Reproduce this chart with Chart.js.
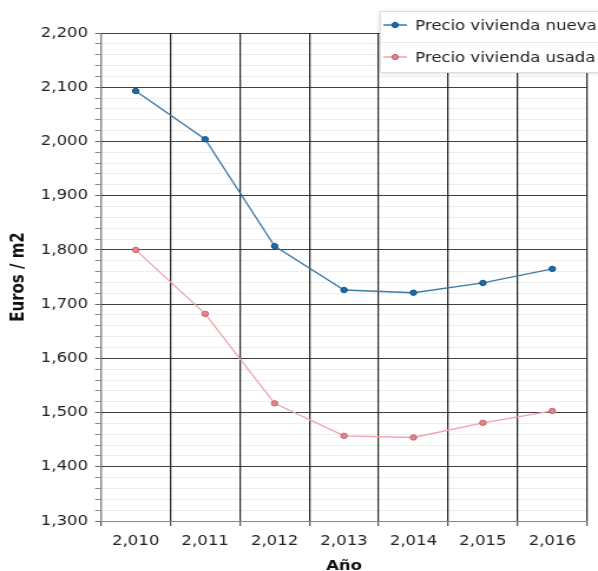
<!DOCTYPE html>
<html>
<head>
<meta charset="utf-8">
<script src="https://cdn.jsdelivr.net/npm/chart.js@4/dist/chart.umd.min.js"></script>
<style>
  html, body { margin: 0; padding: 0; background: #fff; overflow: hidden; width: 598px; height: 571px; }
  #wrap { position: absolute; left: 0; top: 0; width: 507px; height: 571px;
          transform: scaleX(1.17949); transform-origin: 0 0; }
</style>
</head>
<body>
<div id="wrap"><canvas id="c"></canvas></div>
<script>
// ---- data ----
const years = [2010, 2011, 2012, 2013, 2014, 2015, 2016];
const precioNueva = [2093, 2004, 1807, 1726, 1721, 1739, 1765];
const precioUsada = [1800, 1682, 1517, 1457, 1454, 1481, 1503];
const seriesNames = ['Precio vivienda nueva', 'Precio vivienda usada'];
const yMin = 1300, yMax = 2200, yMinorStep = 20, yMajorStep = 100;
const xTitle = 'Año';
const yTitle = 'Euros / m2';

const FONT = '"DejaVu Sans", Verdana, sans-serif';
const fmt = v => v.toLocaleString('en-US');

const blue = { line: '#3b7aa6', fill: '#1c6cae', border: '#0f4e7e' };
const red  = { line: '#eea3ab', fill: '#e4848f', border: '#c4606c' };

const legendBox = {
  id: 'legendBox',
  afterDraw(chart) {
    const ctx = chart.ctx;
    const ds = chart.data.datasets;
    const x0 = 322, y0 = 11, w = 200, h = 61;
    ctx.save();
    ctx.shadowColor = 'rgba(0,0,0,0.18)';
    ctx.shadowBlur = 4;
    ctx.shadowOffsetX = 0; ctx.shadowOffsetY = 1;
    ctx.fillStyle = '#ffffff';
    ctx.fillRect(x0, y0, w, h);
    ctx.shadowColor = 'transparent';
    ctx.strokeStyle = '#dddddd';
    ctx.lineWidth = 1;
    ctx.strokeRect(x0 + 0.5, y0 + 0.5, w, h);
    ctx.strokeStyle = '#ececec';
    ctx.beginPath(); ctx.moveTo(x0 + 1, 42.5); ctx.lineTo(x0 + w, 42.5); ctx.stroke();
    const rows = [25, 57];
    ds.forEach((d, i) => {
      const y = rows[i];
      ctx.strokeStyle = d.borderColor;
      ctx.lineWidth = 1.5;
      ctx.beginPath(); ctx.moveTo(325, y); ctx.lineTo(345, y); ctx.stroke();
      ctx.fillStyle = d.pointBackgroundColor;
      ctx.strokeStyle = d.pointBorderColor;
      ctx.lineWidth = 1;
      ctx.beginPath(); ctx.arc(335, y, 2.6, 0, Math.PI * 2); ctx.fill(); ctx.stroke();
      ctx.fillStyle = '#222';
      ctx.font = '14px ' + FONT;
      ctx.textBaseline = 'middle';
      ctx.textAlign = 'left';
      ctx.fillText(d.label, 352, y + 1);
    });
    ctx.restore();
  }
};

new Chart(document.getElementById('c'), {
  type: 'line',
  data: {
    labels: years.map(fmt),
    datasets: [
      { label: seriesNames[0], data: precioNueva, borderColor: blue.line, borderWidth: 1.3,
        pointBackgroundColor: blue.fill, pointBorderColor: blue.border, pointBorderWidth: 1,
        pointRadius: 2.7, tension: 0, fill: false },
      { label: seriesNames[1], data: precioUsada, borderColor: red.line, borderWidth: 1.3,
        pointBackgroundColor: red.fill, pointBorderColor: red.border, pointBorderWidth: 1,
        pointRadius: 2.7, tension: 0, fill: false }
    ]
  },
  options: {
    responsive: true,
    maintainAspectRatio: false,
    animation: false,
    events: [],
    layout: { padding: { top: 33, right: 9.3, left: 0, bottom: 0 } },
    plugins: { legend: { display: false }, tooltip: { enabled: false } },
    scales: {
      x: {
        offset: true,
        afterFit(s) { s.height = 50; },
        grid: {
          offset: true,
          drawOnChartArea: true,
          tickLength: 5,
          color: c => (c.index >= years.length ? '#cfcfcf' : '#2a2a2a'),
          tickColor: '#555',
          lineWidth: c => (c.index >= years.length ? 1 : 1.25)
        },
        border: { color: '#888', width: 1 },
        ticks: { color: '#222', font: { family: FONT, size: 14 }, padding: 7, maxRotation: 0, autoSkip: false },
        title: { display: true, text: xTitle, color: '#111',
                 font: { family: FONT, size: 14, weight: 'bold' }, padding: { top: 0, bottom: -4 } }
      },
      y: {
        min: yMin, max: yMax,
        afterFit(s) { s.width = 85.6; },
        grid: {
          tickLength: 5,
          color: c => (c.tick && c.tick.value % yMajorStep === 0 ? 'rgba(30,30,30,0.85)' : 'rgba(0,0,0,0.07)'),
          tickColor: c => (c.tick && c.tick.value % yMajorStep === 0 ? '#666' : '#888'),
          lineWidth: 1
        },
        border: { color: '#888', width: 1 },
        ticks: {
          stepSize: yMinorStep, autoSkip: false, maxTicksLimit: 1000,
          color: '#222', font: { family: FONT, size: 14 }, padding: 6,
          callback: v => (v % yMajorStep === 0 ? fmt(v) : '')
        },
        title: { display: true, text: yTitle, color: '#111',
                 font: { family: FONT, size: 15, weight: 'bold' }, padding: { top: 7, bottom: 0 } }
      }
    }
  },
  plugins: [legendBox]
});
</script>
</body>
</html>
